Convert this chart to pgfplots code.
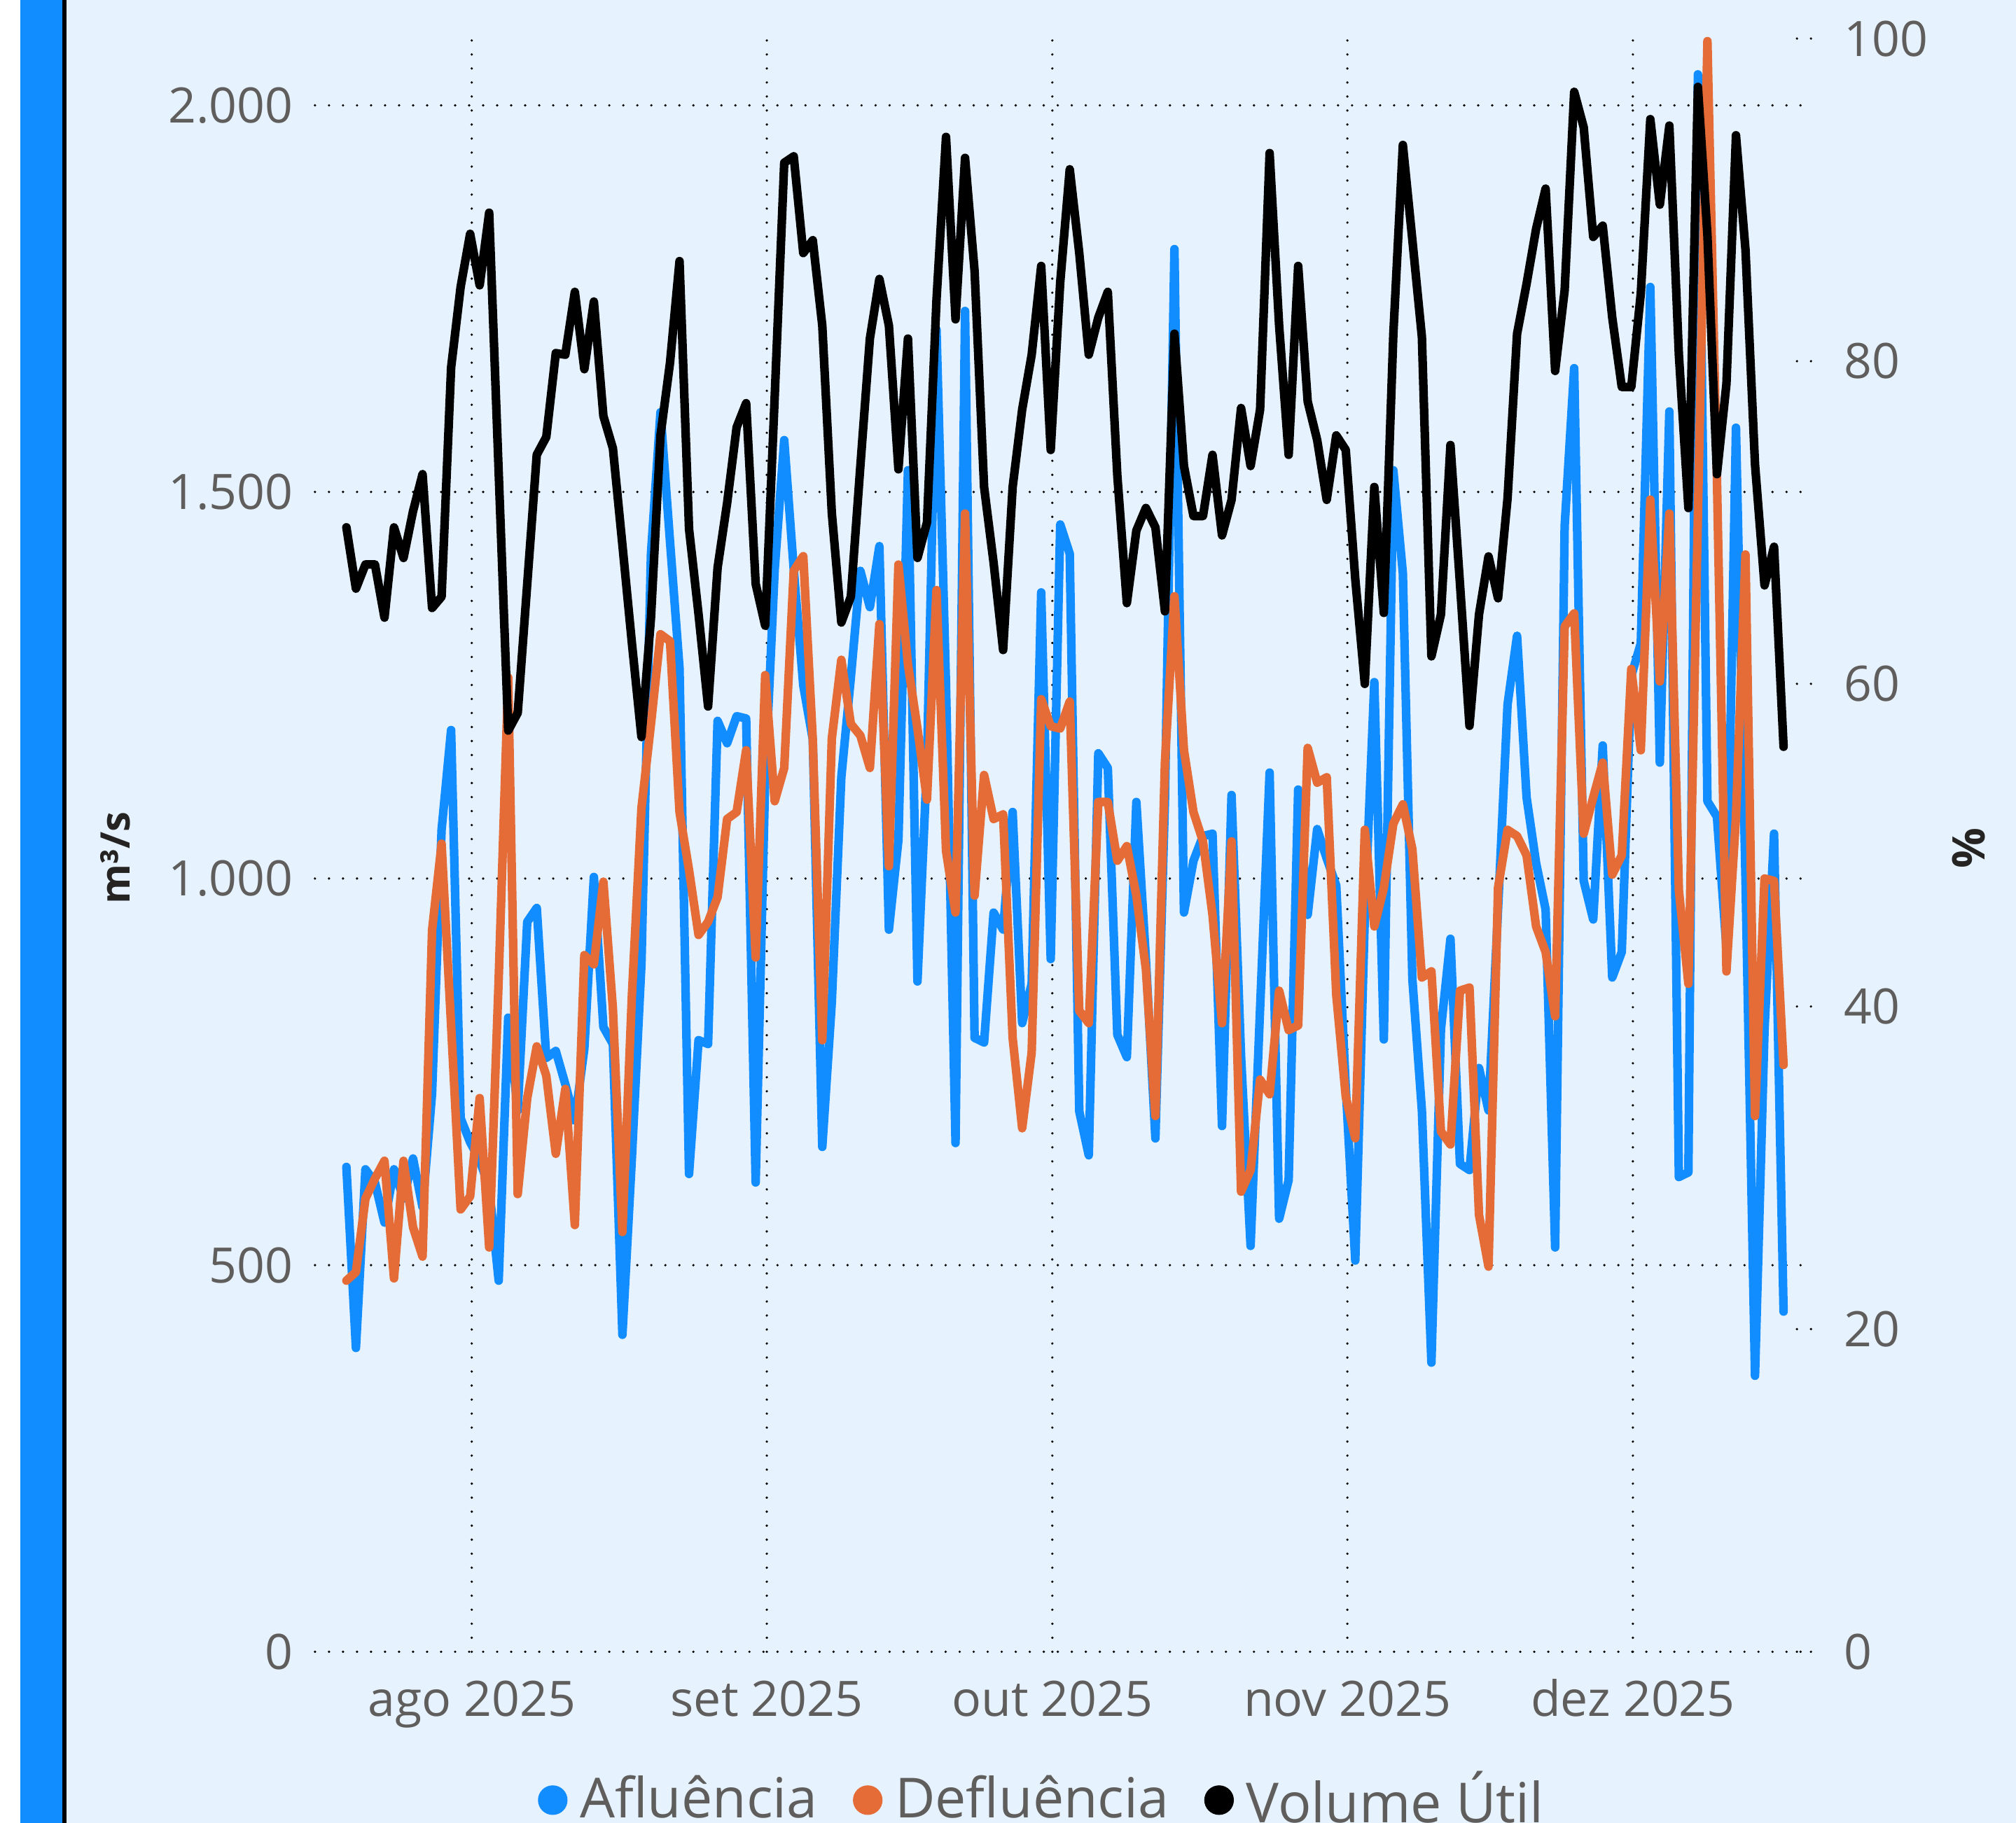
\documentclass[border=0pt]{standalone}
\usepackage{pgfplots}
\usepackage{pgfplotstable}
\pgfplotsset{compat=1.18}
\usepackage{fontspec}
\setmainfont{Open Sans}
\definecolor{bg}{HTML}{E6F2FE}
\definecolor{pbblue}{HTML}{118DFF}
\definecolor{pborange}{HTML}{E66C37}
\definecolor{tickgray}{HTML}{605E5C}
\definecolor{titlegray}{HTML}{252423}

\pgfplotstableread{
d afl defl
-13 627 480
-12 393 491
-11 624 586
-10 607 612
-9 555 635
-8 624 483
-7 586 635
-6 638 549
-5 575 511
-4 722 933
-3 1063 1045
-2 1192 810
-1 690 572
0 659 589
1 636 716
2 600 523
3 480 870
4 820 1260
5 700 592
6 944 716
7 962 783
8 768 745
9 777 644
10 734 728
11 687 552
12 780 901
13 1002 889
14 808 996
15 786 832
16 410 543
17 640 850
18 890 1091
19 1420 1200
20 1603 1316
21 1436 1307
22 1272 1086
23 618 1011
24 791 927
25 786 944
26 1204 976
27 1175 1077
28 1210 1086
29 1207 1166
30 607 898
31 1130 1263
32 1400 1100
33 1567 1143
34 1400 1398
35 1250 1417
36 1180 1180
37 653 791
38 840 1181
39 1131 1283
40 1260 1200
41 1398 1185
42 1351 1143
43 1430 1329
44 934 1016
45 1050 1406
46 1528 1277
47 867 1194
48 1150 1102
49 1710 1373
50 1250 1036
51 658 956
52 1734 1472
53 794 978
54 788 1134
55 956 1077
56 934 1083
57 1086 794
58 813 677
59 864 775
60 1370 1232
61 896 1197
62 1458 1194
63 1420 1229
64 699 829
65 642 813
66 1162 1099
67 1143 1099
68 798 1023
69 769 1042
70 1099 978
71 896 883
72 664 693
73 1100 1150
74 1814 1365
75 956 1166
76 1023 1086
77 1055 1048
78 1058 953
79 680 813
80 1108 1048
81 770 595
82 525 623
83 832 740
84 1137 721
85 560 855
86 610 804
87 1115 810
88 953 1169
89 1064 1124
90 1026 1131
91 991 850
92 730 718
93 506 664
94 950 1063
95 1254 938
96 792 988
97 1528 1071
98 1395 1096
99 870 1038
100 700 872
101 374 880
102 805 673
103 922 656
104 631 855
105 623 859
106 755 565
107 700 498
108 960 988
109 1225 1063
110 1314 1055
111 1105 1030
112 1020 938
113 960 905
114 523 822
115 1456 1326
116 1660 1343
117 997 1058
118 947 1105
119 1172 1150
120 872 1005
121 905 1030
122 1262 1271
123 1304 1166
124 1765 1490
125 1150 1255
126 1604 1472
127 614 985
128 620 864
129 2040 1470
130 1100 2083
131 1080 1518
132 910 880
133 1583 1080
134 1000 1419
135 357 693
136 805 1000
137 1058 997
138 440 759
}\flowdata

\pgfplotstableread{
d vol
-13 69.7
-12 65.9
-11 67.4
-10 67.4
-9 64.1
-8 69.7
-7 67.8
-6 70.7
-5 73.0
-4 64.7
-3 65.4
-2 79.6
-1 84.6
0 87.9
1 84.7
2 89.2
3 73.1
4 57.1
5 58.2
6 66.2
7 74.2
8 75.3
9 80.5
10 80.4
11 84.3
12 79.5
13 83.7
14 76.6
15 74.6
16 68.6
17 62.5
18 56.7
19 64.1
20 75.4
21 79.9
22 86.2
23 69.6
24 64.3
25 58.6
26 67.2
27 71.2
28 75.9
29 77.4
30 66.2
31 63.6
32 77.8
33 92.3
34 92.7
35 86.7
36 87.5
37 82.2
38 70.6
39 63.8
40 65.4
41 73.5
42 81.4
43 85.1
44 82.2
45 73.3
46 81.4
47 67.8
48 70.0
49 83.8
50 93.9
51 82.6
52 92.6
53 85.6
54 72.2
55 67.5
56 62.1
57 72.2
58 77.0
59 80.4
60 85.9
61 74.5
62 84.9
63 91.9
64 86.7
65 80.4
66 82.7
67 84.3
68 72.9
69 65.0
70 69.5
71 70.9
72 69.7
73 64.5
74 81.7
75 73.5
76 70.4
77 70.4
78 74.2
79 69.2
80 71.4
81 77.1
82 73.5
83 77.0
84 92.9
85 82.2
86 74.2
87 85.9
88 77.5
89 75.1
90 71.4
91 75.4
92 74.5
93 66.5
94 60.0
95 72.2
96 64.4
97 81.7
98 93.4
99 87.5
100 81.5
101 61.7
102 64.3
103 74.8
104 66.2
105 57.4
106 64.3
107 67.9
108 65.3
109 71.5
110 81.7
111 84.8
112 88.2
113 90.7
114 79.4
115 84.4
116 96.7
117 94.5
118 87.7
119 88.4
120 82.7
121 78.4
122 78.4
123 84.2
124 95.0
125 89.7
126 94.6
127 80.4
128 70.9
129 97.0
130 87.8
131 73.0
132 78.6
133 94.0
134 86.9
135 73.6
136 66.1
137 68.5
138 56.1
}\voldata

\tikzset{
  serie/.style={line width=2pt, line join=round, line cap=round},
  gridstyle/.style={black, line width=0.6pt, line cap=round, dash pattern=on 0pt off 3.27pt},
}
\pgfplotsset{
  dotlegend/.style={legend image code/.code={\fill[draw=none] (3.45pt,0pt) circle (3.45pt);}},
}

\begin{document}
\begin{tikzpicture}[x=1pt,y=1pt]
\useasboundingbox (0,0) rectangle (470.4,425.4);
\clip (0,0) rectangle (470.4,425.4);
\fill[white] (0,0) rectangle (470.4,425.4);
\fill[bg] (15.6,0) rectangle (470.4,425.4);
\fill[pbblue] (4.8,0) rectangle (15,425.4);
\fill[black] (14.6,0) rectangle (15.6,425.4);

\begin{axis}[
  at={(73.5pt,39.9pt)}, anchor=south west,
  scale only axis, width=347.1pt, height=376.5pt,
  xmin=-16.3, xmax=140, ymin=0, ymax=2086.4,
  clip=false,
  axis line style={draw=none},
  xtick={0.17,31.17,61.17,92.17,122.17},
  xticklabels={ago 2025,set 2025,out 2025,nov 2025,dez 2025},
  ytick={0,500,1000,1500,2000},
  yticklabels={0,500,1.000,1.500,2.000},
  major tick length=0pt,
  xmajorgrids, ymajorgrids,
  major grid style={gridstyle},
  tick label style={font=\fontsize{11.4}{13}\selectfont, text=tickgray},
  yticklabel style={anchor=east, inner sep=0pt, xshift=-4.9pt},
  xticklabel style={anchor=base, inner sep=0pt, yshift=-15pt},
  ylabel={m³/s},
  ylabel style={font=\bfseries\fontsize{9.5}{11}\selectfont, text=titlegray, at={(axis description cs:-0.134,0.492)}, anchor=center},
  legend columns=3,
  legend style={at={(axis description cs:0.488,-0.0735)}, anchor=north, draw=none, fill=none,
    font=\fontsize{12.9}{15}\selectfont, text=tickgray, inner sep=0pt,
    nodes={inner sep=0pt},
    /tikz/every odd column/.append style={column sep=2.9pt},
    /tikz/every even column/.append style={column sep=8.25pt}},
]
\addplot[pbblue, serie, dotlegend] table[x=d, y=afl] {\flowdata};
\addlegendentry{Afluência}
\addplot[pborange, serie, dotlegend] table[x=d, y=defl] {\flowdata};
\addlegendentry{Defluência}
\addlegendimage{black, serie, dotlegend}
\addlegendentry{Volume Útil}
\end{axis}

\begin{axis}[
  at={(73.5pt,39.9pt)}, anchor=south west,
  scale only axis, width=347.1pt, height=376.5pt,
  xmin=-16.3, xmax=140, ymin=0, ymax=100,
  clip=false,
  axis x line=none,
  axis y line*=right,
  axis line style={draw=none},
  ytick={0,20,40,60,80,100},
  yticklabels={0,20,40,60,80,100},
  major tick length=3.9pt, tick align=center,
  ytick style={gridstyle},
  tick label style={font=\fontsize{11.4}{13}\selectfont, text=tickgray},
  yticklabel style={anchor=west, inner sep=0pt, xshift=7.5pt},
  ylabel={\%},
  ylabel style={font=\bfseries\fontsize{10.5}{12}\selectfont, text=titlegray, at={(axis description cs:1.1115,0.498)}, anchor=center},
]
\addplot[black, serie] table[x=d, y=vol] {\voldata};
\end{axis}
\end{tikzpicture}
\end{document}
